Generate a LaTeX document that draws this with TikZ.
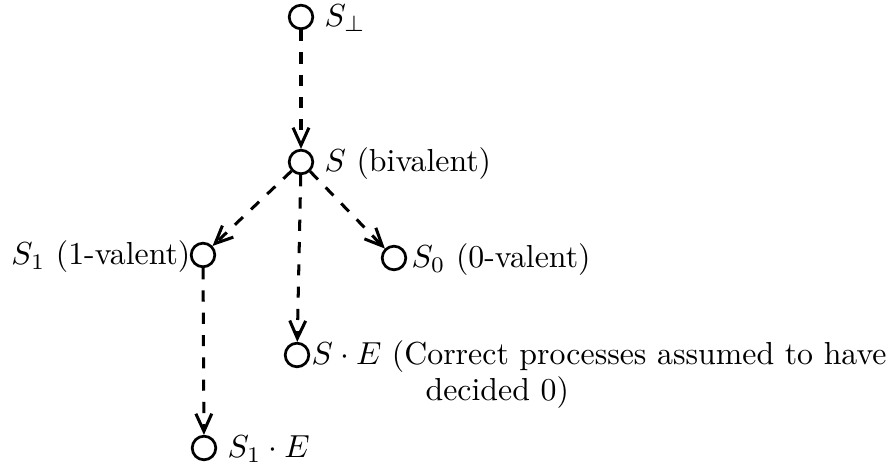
\documentclass[tikz,border=0pt]{standalone}
\usetikzlibrary{arrows.meta}
\begin{document}
\begin{tikzpicture}[x=0.314pt,y=-0.314pt,
  state/.style={circle,draw,line width=0.85pt,minimum size=7.4pt,inner sep=0pt},
  lbl/.style={inner sep=0pt},
  trans/.style={dash pattern=on 3.5pt off 3.5pt, line width=0.95pt,
    -{Straight Barb[length=5.5pt,width=5pt,line width=0.95pt]}}]
\useasboundingbox (0,0) rectangle (892,472);
\node[state] (sb) at (301,17) {};
\node[state] (s) at (301,162) {};
\node[state] (s1) at (203,255) {};
\node[state] (s0) at (394,258) {};
\node[state] (se) at (297,355) {};
\node[state] (s1e) at (204,448) {};
\node[lbl,anchor=base west] (lsb) at (324,27) {$S_\perp$};
\node[lbl,anchor=base west] (ls) at (324,172) {$S$ (bivalent)};
\node[lbl,anchor=base east] (ls1) at (191,265) {$S_1$ (1-valent)};
\node[lbl,anchor=base west] (ls0) at (411,268) {$S_0$ (0-valent)};
\node[lbl,anchor=base west] (lse) at (311,365) {$S\cdot E$ (Correct processes assumed to have};
\node[lbl,anchor=base west] (lse2) at (425,401) {decided 0)};
\node[lbl,anchor=base west] (ls1e) at (227,458) {$S_1\cdot E$};
\draw[trans] (sb) -- (s);
\draw[trans] (s) -- (s1);
\draw[trans] (s) -- (s0);
\draw[trans] (s) -- (se);
\draw[trans] (s1) -- (s1e);
\end{tikzpicture}
\end{document}
